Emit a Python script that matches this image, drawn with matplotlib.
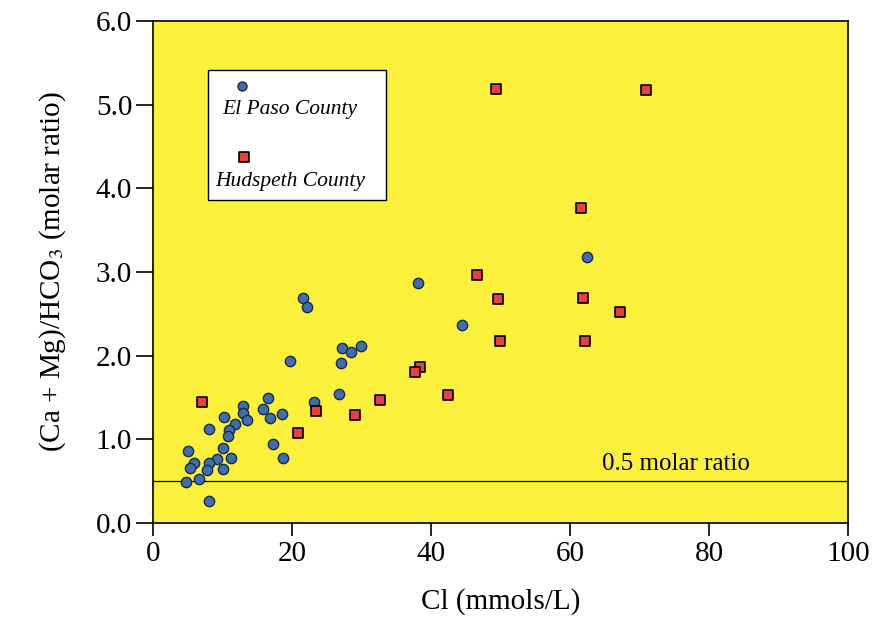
import matplotlib
matplotlib.use('Agg')
import matplotlib.pyplot as plt
from matplotlib.patches import Rectangle

# El Paso County (blue circles)
elpaso_cl = [21.6, 22.2, 27.2, 28.5, 29.9, 27.1, 19.7, 26.7, 23.1, 16.6,
             13.0, 13.0, 13.5, 15.8, 16.8, 18.5, 10.2, 11.8, 11.0, 10.8,
             8.0, 10.0, 17.2, 18.7, 11.2, 9.2, 5.0, 5.9, 5.3, 8.0,
             7.8, 10.0, 6.6, 4.7, 8.1, 38.1, 44.5, 62.5]
elpaso_ratio = [2.69, 2.58, 2.09, 2.04, 2.11, 1.91, 1.94, 1.54, 1.45, 1.49,
                1.40, 1.32, 1.23, 1.36, 1.26, 1.30, 1.27, 1.18, 1.11, 1.04,
                1.12, 0.90, 0.94, 0.78, 0.78, 0.76, 0.86, 0.72, 0.66, 0.72,
                0.63, 0.64, 0.52, 0.49, 0.26, 2.87, 2.37, 3.18]

# Hudspeth County (red squares)
hudspeth_cl = [7.1, 23.5, 20.8, 29.1, 32.6, 46.6, 49.6, 61.9, 67.2, 50.0,
               62.1, 38.4, 37.7, 42.5, 49.4, 70.9, 61.6]
hudspeth_ratio = [1.44, 1.34, 1.08, 1.29, 1.47, 2.96, 2.68, 2.69, 2.52, 2.17,
                  2.18, 1.87, 1.80, 1.53, 5.19, 5.17, 3.77]

ref_ratio = 0.5

plt.rcParams['font.family'] = ['Liberation Serif', 'DejaVu Serif']
plt.rcParams['mathtext.fontset'] = 'stix'

fig = plt.figure(figsize=(8.73, 6.24), dpi=100)
ax = fig.add_axes([0.1753, 0.1619, 0.796, 0.8045])
ax.set_facecolor('#fbf03c')

ax.axhline(ref_ratio, color='black', linewidth=0.9, zorder=2)
ax.text(64.6, 0.70, '0.5 molar ratio', fontsize=18, va='center', ha='left')

ax.scatter(elpaso_cl, elpaso_ratio, s=55, marker='o', color='#3f6db0',
           edgecolors='#1a2a40', linewidths=1.0, zorder=3)
ax.scatter(hudspeth_cl, hudspeth_ratio, s=55, marker='s', color='#e8413b',
           edgecolors='black', linewidths=1.2, zorder=3)

# legend box: marker above label
ax.add_patch(Rectangle((0.079, 0.643), 0.256, 0.259, transform=ax.transAxes,
                       facecolor='white', edgecolor='black', linewidth=1.0, zorder=4))
ax.scatter([0.128], [0.870], s=42, marker='o', color='#3f6db0',
           edgecolors='#1a2a40', linewidths=1.0, transform=ax.transAxes, zorder=5)
ax.text(0.099, 0.823, 'El Paso County', transform=ax.transAxes, fontsize=15.5,
        style='italic', va='center', ha='left', zorder=5)
ax.scatter([0.131], [0.729], s=42, marker='s', color='#e8413b',
           edgecolors='black', linewidths=1.2, transform=ax.transAxes, zorder=5)
ax.text(0.089, 0.681, 'Hudspeth County', transform=ax.transAxes, fontsize=15.5,
        style='italic', va='center', ha='left', zorder=5)

ax.set_xlim(0, 100)
ax.set_ylim(0, 6)
ax.set_xticks([0, 20, 40, 60, 80, 100])
ax.set_yticks([0, 1, 2, 3, 4, 5, 6])
ax.set_yticklabels(['0.0', '1.0', '2.0', '3.0', '4.0', '5.0', '6.0'])
ax.tick_params(axis='y', direction='out', length=12, width=1.2, labelsize=21, pad=3)
ax.tick_params(axis='x', direction='out', length=9, width=1.2, labelsize=21, pad=4)
for s in ax.spines.values():
    s.set_linewidth(1.2)

ax.set_xlabel('Cl (mmols/L)', fontsize=21, labelpad=15)
ax.set_ylabel('(Ca + Mg)/HCO$_3$ (molar ratio)', fontsize=21, labelpad=20)

fig.savefig('out.png', dpi=100)
